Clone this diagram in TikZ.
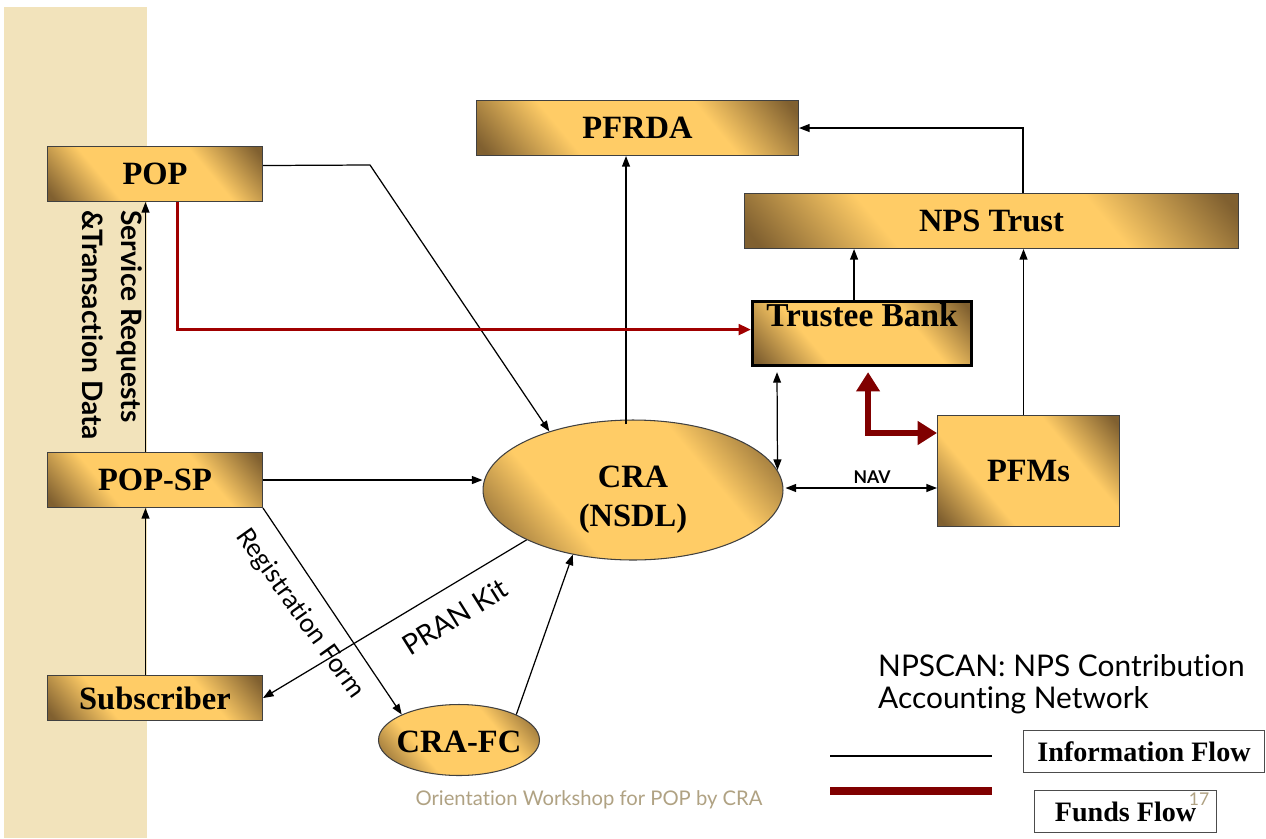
\documentclass[tikz,border=0pt]{standalone}
\usepackage{fontspec}
\setmainfont{Liberation Serif}
\setsansfont{Lato}[Ligatures=NoCommon]
\usetikzlibrary{arrows.meta,shapes.geometric,calc}
\definecolor{goldL}{HTML}{FFCC66}
\definecolor{goldD}{HTML}{806030}
\definecolor{band}{HTML}{F2E3BB}
\definecolor{fundred}{HTML}{800000}
\definecolor{popred}{HTML}{A00000}
\definecolor{foot}{HTML}{B0A283}
\pgfdeclareverticalshading{goldsh}{100bp}{color(0bp)=(goldD); color(17bp)=(goldD); color(35bp)=(goldL); color(65bp)=(goldL); color(83bp)=(goldD); color(100bp)=(goldD)}
\begin{document}
\begin{tikzpicture}[x=0.02cm,y=-0.02cm,
  goldfill/.style={draw=black!75, line width=0.6pt, shading=goldsh, shading angle=-50},
  box/.style={goldfill, rectangle, anchor=north west, inner sep=0pt, font=\fontsize{18.5}{21}\selectfont\bfseries},
  oval/.style={goldfill, ellipse, inner sep=0pt, align=center, font=\fontsize{18.5}{21}\selectfont\bfseries},
  ovaltext/.style={align=center, font=\fontsize{18.5}{21}\selectfont\bfseries},
  info/.style={draw=black, line width=0.7pt, -{Triangle[length=6pt,width=4.5pt]}},
  infoboth/.style={info, {Triangle[length=6pt,width=4.5pt]}-{Triangle[length=6pt,width=4.5pt]}},
  popfund/.style={draw=popred, line width=1.7pt, -{Triangle[length=7pt,width=6pt]}},
  funds/.style={draw=fundred, line width=3.4pt, {Triangle[length=11pt,width=13pt]}-{Triangle[length=11pt,width=13pt]}},
  legbox/.style={draw=black!70, line width=0.6pt, fill=white, anchor=north west, inner sep=0pt, font=\fontsize{16}{18}\selectfont\bfseries}
]
\useasboundingbox (0,0) rectangle (1266,838);
\fill[white] (0,0) rectangle (1266,838);
\fill[band] (4,7) rectangle (147,838);

% nodes
\node[box, minimum width=4.3cm, minimum height=1.1cm] (POP) at (47,146) {POP};
\node[box, minimum width=6.44cm, minimum height=1.1cm] (PFRDA) at (476,100) {PFRDA};
\node[box, minimum width=9.88cm, minimum height=1.1cm] (NPST) at (744,193) {NPS Trust};
\node[box, minimum width=4.38cm, minimum height=1.28cm, draw=black, line width=1.8pt, text height=0.5cm, text depth=0.78cm, font=\fontsize{19}{21}\selectfont\bfseries] (TB) at (751,300) {Trustee Bank};
\node[box, minimum width=3.64cm, minimum height=2.22cm] (PFMs) at (937,415) {PFMs};
\node[box, minimum width=4.3cm, minimum height=1.1cm] (POPSP) at (47,452) {POP-SP};
\node[box, minimum width=4.3cm, minimum height=0.9cm] (Sub) at (47,675) {Subscriber};
\node[oval, minimum width=6cm, minimum height=2.8cm, label={[ovaltext, yshift=-5.5pt]center:{CRA\\[1pt](NSDL)}}] (CRA) at (633,490) {};
\node[oval, minimum width=3.22cm, minimum height=1.42cm, label={[ovaltext, yshift=-1pt]center:{CRA-FC}}] (CRAFC) at (459,740) {};

% helper coordinates
\coordinate (cpf) at ($(CRA.north)+(-7,5)$);
\coordinate (npx) at ($(NPST.north west)+(279,0)$);
\coordinate (pfx) at ($(PFMs.north)+(-5,0)$);
\coordinate (tbx) at ($(TB.north)+(-8,0)$);
\coordinate (tbc) at ($(TB.south west)+(26,5)$);
\coordinate (crt) at ($(CRA.east)+(-6,-20)$);
\coordinate (cre) at ($(CRA.east)+(2,-2)$);
\coordinate (sbx) at ($(Sub.north)+(-9.5,0)$);
\coordinate (psx) at ($(POPSP.north)+(-9.5,0)$);
\coordinate (ppe) at ($(POP.east)+(0,-8.5)$);
\coordinate (ppb) at (370,165);
\coordinate (pps) at ($(POP.south)+(22.5,0)$);
\coordinate (tbw) at ($(TB.west)+(0,-4)$);
\coordinate (tbs) at ($(TB.south)+(6,5)$);
\coordinate (pfw) at ($(PFMs.north west)+(0,18)$);

% information flow
\draw[info] (ppe) -- (ppb) -- (CRA.145);
\draw[info] (POPSP.east) -- (POPSP.east -| CRA.west);
\draw[info] (POPSP.south east) -- (CRAFC.north west);
\draw[info] (CRA.south west) -- (Sub.east);
\draw[info] (CRAFC.north east) -- (CRA.227);
\draw[info] (cpf) -- (cpf |- PFRDA.south);
\draw[info] (npx) |- (PFRDA.east);
\draw[info] (pfx) -- (pfx |- NPST.south);
\draw[info] (tbx) -- (tbx |- NPST.south);
\draw[infoboth] (tbc) -- (crt);
\draw[infoboth] (cre) -- (cre -| PFMs.west);
\node[font=\sffamily\bfseries\fontsize{10}{11}\selectfont] (NAV) at (872,477) {NAV};
\draw[info] (sbx) -- (sbx |- POPSP.south);
\draw[info] (psx) -- (psx |- POP.south);

% funds flow
\draw[popfund] (pps) |- (tbw);
\draw[funds] (tbs) |- (pfw);

% labels
\node[rotate=-90, anchor=west, align=left, font=\sffamily\bfseries\fontsize{16}{22}\selectfont] (SRT) at (112,204) {Service Requests\\\&Transaction Data};
\node[rotate=-54.5, font=\sffamily\fontsize{14.7}{16}\selectfont] (RF) at (300,614) {Registration Form};
\node[rotate=32, font=\sffamily\fontsize{16}{18}\selectfont] (PK) at (455,617) {PRAN Kit};
\node[anchor=north west, align=left, font=\sffamily\fontsize{17}{18.5}\selectfont] (NPSCAN) at (872,648) {NPSCAN: NPS Contribution\\Accounting Network};

% legend
\coordinate (li1) at (830,756);
\coordinate (li2) at (992,756);
\coordinate (lf1) at (830,791);
\coordinate (lf2) at (992,791);
\draw[black, line width=1.2pt] (li1) -- (li2);
\draw[fundred, line width=4pt] (lf1) -- (lf2);
\node[legbox, minimum width=4.82cm, minimum height=0.84cm] (LInfo) at (1023,730) {Information Flow};
\node[legbox, minimum width=3.64cm, minimum height=0.84cm] (LFund) at (1034,790) {Funds Flow};
\node[text=foot, font=\sffamily\fontsize{10}{12}\selectfont] (pg) at (1199,799) {17};
\node[text=foot, font=\sffamily\fontsize{11.5}{13}\selectfont] (footer) at (589,800) {Orientation Workshop for POP by CRA};
\end{tikzpicture}
\end{document}
